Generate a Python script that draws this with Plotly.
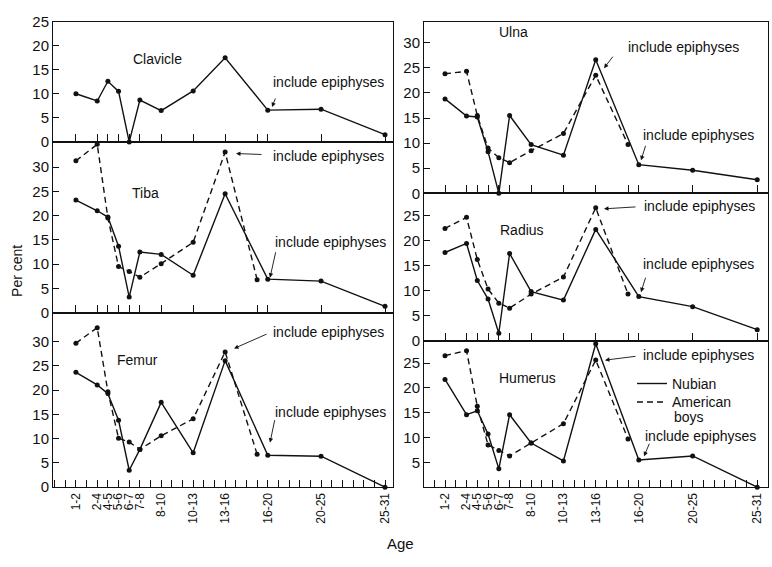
import plotly.graph_objects as go

# ---------------- data ----------------
age_labels = ["1-2", "2-4", "4-5", "5-6", "6-7", "7-8", "8-10", "10-13", "13-16", "16-20", "20-25", "25-31"]
label_pos = [2, 4, 5, 6, 7, 8, 10, 13, 16, 20, 25, 31]
nubian_age = [2, 4, 5, 6, 7, 8, 10, 13, 16, 20, 25, 31]
american_age = [2, 4, 5, 6, 7, 8, 10, 13, 16, 19]

clavicle_nubian = [10.0, 8.5, 12.6, 10.5, 0.0, 8.7, 6.5, 10.6, 17.5, 6.6, 6.8, 1.5]
tibia_nubian = [23.2, 21.0, 19.7, 13.7, 3.2, 12.5, 12.0, 7.7, 24.5, 6.9, 6.5, 1.3]
tibia_american = [31.3, 34.7, 19.5, 9.5, 8.5, 7.3, 10.1, 14.5, 33.1, 6.8]
femur_nubian = [23.7, 21.1, 19.3, 13.8, 3.5, 7.8, 17.5, 7.1, 26.1, 6.6, 6.4, 0.0]
femur_american = [29.7, 32.9, 19.7, 10.1, 9.3, 7.8, 10.6, 14.1, 27.9, 6.8]
ulna_nubian = [18.8, 15.4, 15.2, 8.3, 0.0, 15.5, 9.7, 7.6, 26.6, 5.7, 4.6, 2.7]
ulna_american = [23.8, 24.3, 15.5, 9.0, 7.1, 6.1, 8.5, 11.9, 23.5, 9.7]
radius_nubian = [17.6, 19.4, 12.0, 8.3, 1.5, 17.4, 9.8, 8.1, 22.2, 8.8, 6.8, 2.2]
radius_american = [22.4, 24.6, 16.2, 10.3, 7.5, 6.5, 9.3, 12.7, 26.5, 9.3]
humerus_nubian = [21.7, 14.6, 15.4, 10.7, 3.7, 14.6, 8.9, 5.3, 28.9, 5.5, 6.3, 0.0]
humerus_american = [26.5, 27.5, 16.3, 8.5, 7.4, 6.3, 8.9, 12.8, 25.6, 9.7]

data_ticks = [2, 4, 5, 6, 7, 8, 10, 13, 16, 19, 20, 25, 31]

# ---------------- layout helpers ----------------
W, H = 772, 567
FONT = "Liberation Sans, Arial, sans-serif"
INK = "#111111"


def px_x(p):
    return p / W


def px_y(p):
    return 1 - p / H


# panel: title, nubian, american, col, top px, bottom px, yrange, ytickvals, bottom-row
panels = [
    ("Clavicle", clavicle_nubian, None, 0, 13, 137, [0, 25], [0, 5, 10, 15, 20, 25], False),
    ("Tiba", tibia_nubian, tibia_american, 0, 137, 313, [0, 35.2], [0, 5, 10, 15, 20, 25, 30], False),
    ("Femur", femur_nubian, femur_american, 0, 313, 493, [0, 36], [0, 5, 10, 15, 20, 25, 30], True),
    ("Ulna", ulna_nubian, ulna_american, 1, 13, 190, [0, 34.2], [0, 5, 10, 15, 20, 25, 30], False),
    ("Radius", radius_nubian, radius_american, 1, 190, 342, [0, 29.4], [0, 5, 10, 15, 20, 25], False),
    ("Humerus", humerus_nubian, humerus_american, 1, 342, 493, [0, 29.5], [5, 10, 15, 20, 25], True),
]
col_x = [(53, 393), (424, 768)]
col_xrange = [[-0.15, 31.75], [0.05, 32.0]]

fig = go.Figure()
layout = {}

for i, (title, nub, ame, col, top, bot, yr, ytv, is_bottom) in enumerate(panels):
    n = i + 1
    xa = "x" if n == 1 else f"x{n}"
    ya = "y" if n == 1 else f"y{n}"
    xkey = "xaxis" if n == 1 else f"xaxis{n}"
    ykey = "yaxis" if n == 1 else f"yaxis{n}"

    fig.add_trace(go.Scatter(
        x=nubian_age, y=nub, xaxis=xa, yaxis=ya, mode="lines+markers",
        line=dict(color=INK, width=1.4), marker=dict(color=INK, size=5),
        showlegend=False, cliponaxis=False))
    if ame is not None:
        fig.add_trace(go.Scatter(
            x=american_age, y=ame, xaxis=xa, yaxis=ya, mode="lines+markers",
            line=dict(color=INK, width=1.4, dash="6px,4px"), marker=dict(color=INK, size=5),
            showlegend=False, cliponaxis=False))

    x0, x1 = col_x[col]
    xaxis = dict(
        domain=[px_x(x0), px_x(x1)], range=col_xrange[col], anchor=ya,
        showline=True, mirror=True, linecolor=INK, linewidth=1,
        showgrid=False, zeroline=False, ticks="inside", ticklen=8,
        tickcolor=INK, tickwidth=1.2,
    )
    if is_bottom:
        xaxis.update(
            tickvals=label_pos, ticktext=age_labels, tickangle=-90,
            tickfont=dict(family=FONT, size=12, color=INK), ticklen=7,
            minor=dict(ticks="inside", ticklen=7, tick0=0, dtick=1, tickcolor=INK, tickwidth=1.2),
        )
    else:
        xaxis.update(tickvals=data_ticks, showticklabels=False)
    layout[xkey] = xaxis

    layout[ykey] = dict(
        domain=[px_y(bot), px_y(top)], range=yr, anchor=xa,
        showline=True, mirror=True, linecolor=INK, linewidth=1,
        showgrid=False, zeroline=False, ticks="inside", ticklen=6,
        tickcolor=INK, tickwidth=1.2, tickvals=ytv,
        tickfont=dict(family=FONT, size=15, color=INK),
    )

# legend-only traces (one legend box each so the rows sit as tight as the original)
fig.add_trace(go.Scatter(x=[None], y=[None], mode="lines", name="Nubian",
                         line=dict(color=INK, width=1.4), xaxis="x6", yaxis="y6",
                         legend="legend"))
fig.add_trace(go.Scatter(x=[None], y=[None], mode="lines", name="American",
                         line=dict(color=INK, width=1.4, dash="6px,4px"), xaxis="x6", yaxis="y6",
                         legend="legend2"))

annotations = []


def text_ann(t, px, py, size=14, xanchor="center"):
    annotations.append(dict(text=t, x=px_x(px), y=px_y(py), xref="paper", yref="paper",
                            showarrow=False, font=dict(family=FONT, size=size, color=INK),
                            xanchor=xanchor, yanchor="middle"))


def arrow_ann(tx, ty, hx, hy):
    annotations.append(dict(text="", x=px_x(hx), y=px_y(hy), xref="paper", yref="paper",
                            ax=tx - hx, ay=ty - hy, axref="pixel", ayref="pixel",
                            showarrow=True, arrowhead=2, arrowsize=1, arrowwidth=0.9,
                            arrowcolor=INK))


# panel titles
for t, px, py in [("Clavicle", 157, 52), ("Tiba", 145, 190), ("Femur", 137, 362),
                  ("Ulna", 513, 24), ("Radius", 522, 228), ("Humerus", 527, 380)]:
    text_ann(t, px, py, size=14)

EPI = "include epiphyses"
for px, py in [(328, 75), (328, 152), (330, 240), (328, 333), (330, 415),
               (683, 39), (698, 130), (699, 203), (698, 263), (698, 357), (700, 440)]:
    text_ann(EPI, px, py, size=14)

for tx, ty, hx, hy in [(276, 91, 272, 101), (263, 150, 236, 149), (276, 250, 270, 277),
                       (268, 335, 234, 350), (275, 423, 270, 447),
                       (614, 48, 604, 61), (646, 140, 641, 156), (637, 204, 604, 206),
                       (646, 276, 641, 292), (637, 358, 605, 362), (650, 447, 644, 461)]:
    arrow_ann(tx, ty, hx, hy)

# second line of the "American boys" legend entry
text_ann("boys", 672, 421, size=14, xanchor="left")

# axis titles
annotations.append(dict(text="Per cent", x=px_x(17), y=px_y(270), xref="paper", yref="paper",
                        showarrow=False, textangle=-90, xanchor="center", yanchor="middle",
                        font=dict(family=FONT, size=14, color=INK)))
text_ann("Age", 401, 551, size=15)

legend_common = dict(xanchor="left", yanchor="top", bgcolor="rgba(0,0,0,0)",
                     font=dict(family=FONT, size=14, color=INK), itemwidth=30)

fig.update_layout(
    width=W, height=H,
    margin=dict(l=0, r=0, t=0, b=0),
    paper_bgcolor="white", plot_bgcolor="white",
    showlegend=True,
    legend=dict(x=px_x(632), y=px_y(370), **legend_common),
    legend2=dict(x=px_x(632), y=px_y(389), **legend_common),
    annotations=annotations,
    **layout,
)

fig.write_html("out.html")
